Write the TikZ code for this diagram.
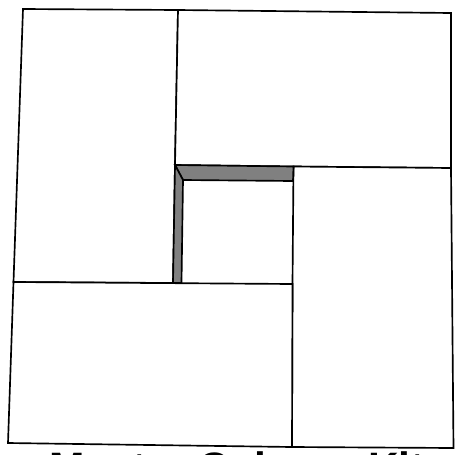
\documentclass[tikz,border=0pt]{standalone}
\usepackage{xcolor}
\usepackage{fontspec}
\setsansfont{Liberation Sans}
\usepackage{tikz}
\definecolor{mygray}{RGB}{128,128,128}
\tikzset{
  panel/.style={draw=black, fill=white, line width=0.95pt, line join=miter},
  shade/.style={draw=black, fill=mygray, line width=0.95pt},
  kittitle/.style={anchor=base west, inner sep=0pt, font=\sffamily\bfseries\fontsize{24.2}{24}\selectfont}
}
\begin{document}
\begin{tikzpicture}[x=0.02cm, y=-0.02cm]
  \useasboundingbox (0,0) rectangle (457,454);
  \fill[white] (0,0) rectangle (457,454);

  % Outer corners
  \coordinate (tl) at (23,9);
  \coordinate (tr) at (451,13);
  \coordinate (br) at (453.5,448);
  \coordinate (bl) at (8,443);

  % Inner opening
  \coordinate (oa) at (175,165);
  \coordinate (ob) at (293.5,166.5);
  \coordinate (oc) at (292.5,284);
  \coordinate (od) at (173,283);
  \coordinate (ia) at (183,180);
  \coordinate (ib) at (293,181);
  \coordinate (id) at (181.5,283);

  % Four flaps
  \draw[panel] (tl) -- (178,10) -- (oa) -- (od) -- (13.5,282) -- cycle;
  \draw[panel] (178,10) -- (tr) -- (451,168) -- (ob) -- (oa) -- cycle;
  \draw[panel] (ob) -- (451,168) -- (br) -- (292,447) -- (oc) -- cycle;
  \draw[panel] (13.5,282) -- (oc) -- (292,447) -- (bl) -- cycle;

  % Inside walls
  \draw[shade] (oa) -- (ob) -- (ib) -- (ia) -- cycle;
  \draw[shade] (oa) -- (ia) -- (id) -- (od) -- cycle;

  % Title, cut by the page edge
  \node[kittitle] (kit) at (49,482) {Master Column Kit};
\end{tikzpicture}
\end{document}
